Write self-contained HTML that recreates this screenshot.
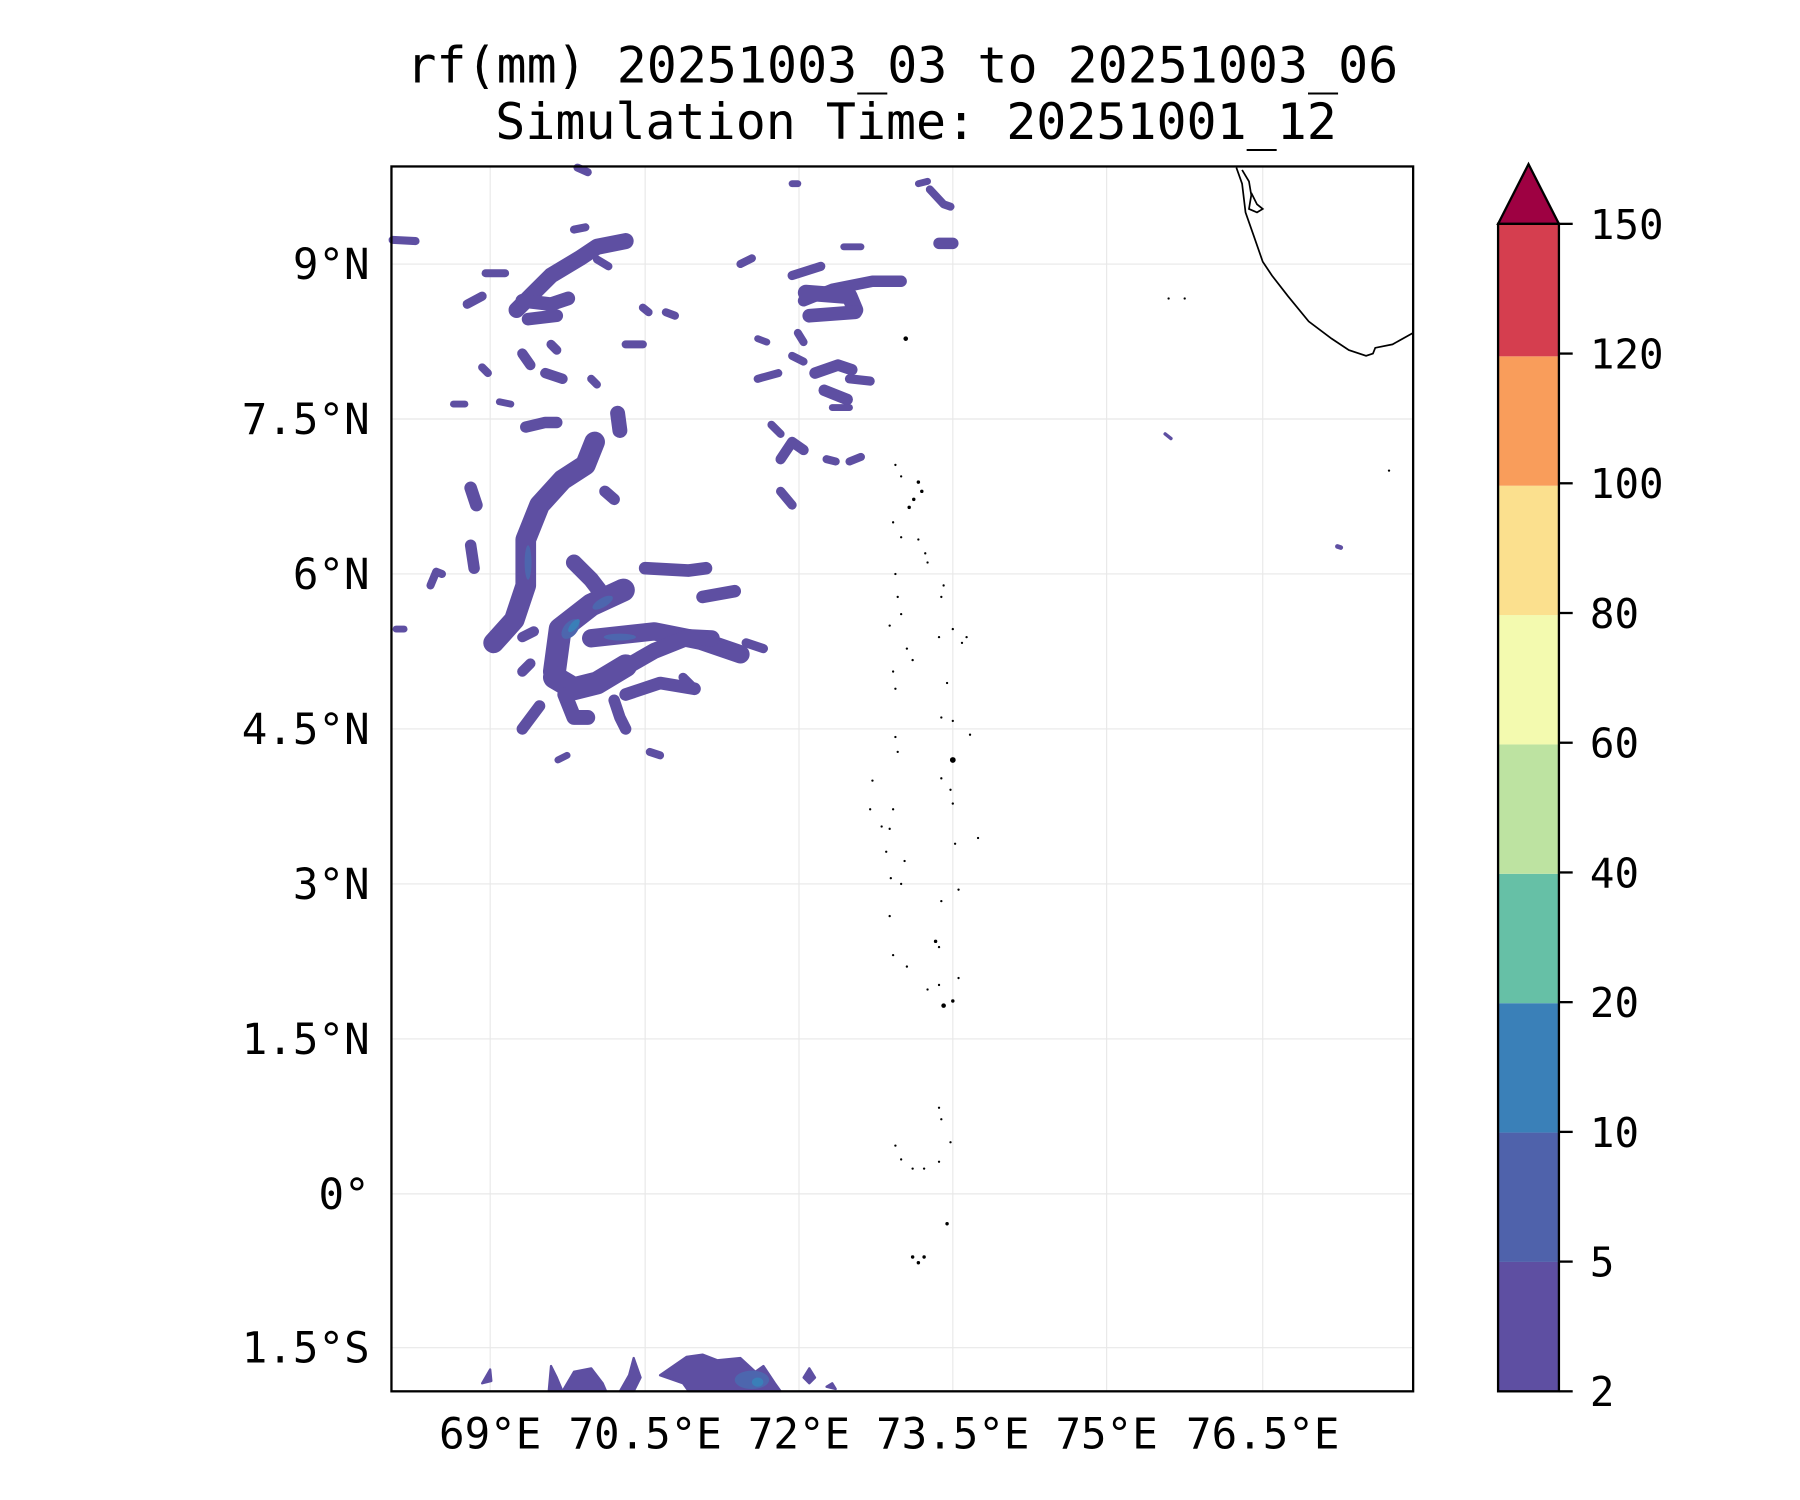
<!DOCTYPE html>
<html><head><meta charset="utf-8"><style>
html,body{margin:0;padding:0;background:#fff;}
svg{display:block;}
text{font-family:"DejaVu Sans Mono","Liberation Mono",monospace;fill:#000;}
</style></head><body>
<svg width="1800" height="1500" viewBox="0 0 1568 1306.67" xmlns="http://www.w3.org/2000/svg">
<rect width="1568" height="1306.67" fill="#fff"/>
<text x="786" y="72" font-size="43.5" text-anchor="middle">rf(mm) 20251003_03 to 20251003_06</text>
<text x="798" y="121" font-size="43.5" text-anchor="middle">Simulation Time: 20251001_12</text>
<g stroke="#e8e8e8" stroke-width="1">
<line x1="427" y1="145" x2="427" y2="1212"/><line x1="562" y1="145" x2="562" y2="1212"/><line x1="696" y1="145" x2="696" y2="1212"/><line x1="830" y1="145" x2="830" y2="1212"/><line x1="964" y1="145" x2="964" y2="1212"/><line x1="1100" y1="145" x2="1100" y2="1212"/>
<line x1="341" y1="230" x2="1231" y2="230"/><line x1="341" y1="365" x2="1231" y2="365"/><line x1="341" y1="500" x2="1231" y2="500"/><line x1="341" y1="635" x2="1231" y2="635"/><line x1="341" y1="770" x2="1231" y2="770"/><line x1="341" y1="905" x2="1231" y2="905"/><line x1="341" y1="1040" x2="1231" y2="1040"/><line x1="341" y1="1174" x2="1231" y2="1174"/>
</g>
<g fill="#5e4fa2" stroke="#5e4fa2" stroke-linejoin="round" stroke-linecap="round">
<polyline fill="none" stroke-width="18" points="430,560 448,540 458,510 458,470 470,440 490,418 510,405 518,385"/>
<polyline fill="none" stroke-width="13" points="538,360 540,375"/>
<polyline fill="none" stroke-width="20" points="483,585 488,548 515,527 543,514"/>
<polyline fill="none" stroke-width="14" points="500,490 515,505 525,518"/>
<polyline fill="none" stroke-width="16" points="515,556 570,550 610,558 645,570"/>
<polyline fill="none" stroke-width="14" points="535,587 570,567 600,555 620,556"/>
<polyline fill="none" stroke-width="20" points="483,590 500,600 520,595 545,580"/>
<polyline fill="none" stroke-width="11" points="562,495 600,497 615,495"/>
<polyline fill="none" stroke-width="11" points="612,520 640,515"/>
<polyline fill="none" stroke-width="11" points="545,605 575,595 605,600"/>
<polyline fill="none" stroke-width="13" points="492,605 500,625 512,625"/>
<polyline fill="none" stroke-width="10" points="455,635 470,615"/>
<polyline fill="none" stroke-width="10" points="535,610 540,625 545,635"/>
<polyline fill="none" stroke-width="10" points="410,475 413,495"/>
<polyline fill="none" stroke-width="11" points="410,425 415,440"/>
<polyline fill="none" stroke-width="10" points="458,372 475,368 485,368"/>
<polyline fill="none" stroke-width="10" points="527,428 535,435"/>
<polyline fill="none" stroke-width="9" points="455,555 465,550"/>
<polyline fill="none" stroke-width="9" points="455,585 462,578"/>
<polyline fill="none" stroke-width="6" points="345,548 352,548"/>
<polyline fill="none" stroke-width="7" points="566,655 575,658"/>
<polyline fill="none" stroke-width="6" points="486,662 494,658"/>
<polyline fill="none" stroke-width="7" points="375,510 380,498 385,500"/>
<polyline fill="none" stroke-width="8" points="650,560 665,565"/>
<polyline fill="none" stroke-width="8" points="595,590 605,600"/>
<!-- upper region -->
<polyline fill="none" stroke-width="14" points="450,270 465,255 480,240 505,225 520,215 545,210"/>
<polyline fill="none" stroke-width="12" points="455,262 480,265 495,260"/>
<polyline fill="none" stroke-width="11" points="460,278 485,275"/>
<polyline fill="none" stroke-width="7" points="342,209 362,210"/>
<polyline fill="none" stroke-width="7" points="423,238 440,238"/>
<polyline fill="none" stroke-width="8" points="407,265 420,258"/>
<polyline fill="none" stroke-width="9" points="475,325 490,330"/>
<polyline fill="none" stroke-width="9" points="455,308 462,318"/>
<polyline fill="none" stroke-width="8" points="480,300 485,305"/>
<polyline fill="none" stroke-width="7" points="520,226 530,232"/>
<polyline fill="none" stroke-width="7" points="420,320 425,325"/>
<polyline fill="none" stroke-width="6" points="395,352 405,352"/>
<polyline fill="none" stroke-width="6" points="435,350 445,352"/>
<polyline fill="none" stroke-width="7" points="545,300 560,300"/>
<polyline fill="none" stroke-width="7" points="515,330 520,335"/>
<polyline fill="none" stroke-width="7" points="580,272 588,275"/>
<polyline fill="none" stroke-width="7" points="500,200 510,198"/>
<polyline fill="none" stroke-width="7" points="503,146 512,150"/>
<polyline fill="none" stroke-width="7" points="645,230 655,225"/>
<polyline fill="none" stroke-width="7" points="560,268 565,272"/>
<polyline fill="none" stroke-width="10" points="700,262 725,252 760,245 785,245"/>
<polyline fill="none" stroke-width="14" points="702,255 740,258 745,270"/>
<polyline fill="none" stroke-width="12" points="705,275 745,272"/>
<polyline fill="none" stroke-width="8" points="690,240 715,232"/>
<polyline fill="none" stroke-width="10" points="710,325 730,318 742,322"/>
<polyline fill="none" stroke-width="10" points="718,340 738,348"/>
<polyline fill="none" stroke-width="8" points="740,330 758,332"/>
<polyline fill="none" stroke-width="7" points="660,330 678,325"/>
<polyline fill="none" stroke-width="7" points="690,310 700,315"/>
<polyline fill="none" stroke-width="7" points="695,290 700,298"/>
<polyline fill="none" stroke-width="10" points="818,212 830,212"/>
<polyline fill="none" stroke-width="7" points="810,165 822,178 828,180"/>
<polyline fill="none" stroke-width="6" points="800,160 808,158"/>
<polyline fill="none" stroke-width="9" points="680,400 690,385 700,392"/>
<polyline fill="none" stroke-width="8" points="680,428 690,440"/>
<polyline fill="none" stroke-width="7" points="720,400 728,402"/>
<polyline fill="none" stroke-width="7" points="740,402 750,398"/>
<polyline fill="none" stroke-width="7" points="672,370 680,378"/>
<polyline fill="none" stroke-width="6" points="660,295 668,298"/>
<polyline fill="none" stroke-width="6" points="735,215 750,215"/>
<polyline fill="none" stroke-width="6" points="690,160 695,160"/>
<polyline fill="none" stroke-width="6" points="725,355 740,355"/>
<polyline fill="none" stroke-width="4" points="1165,476 1168,477"/>
<polyline fill="none" stroke-width="3" points="1015,378 1020,382"/>
<!-- bottom strip -->
<polygon stroke-width="2" points="478,1212 480,1190 485,1200 490,1212"/>
<polygon stroke-width="2" points="490,1212 500,1195 515,1192 525,1205 528,1212"/>
<polygon stroke-width="2" points="540,1212 548,1198 552,1183 558,1200 552,1212"/>
<polygon stroke-width="2" points="575,1198 598,1182 612,1180 625,1185 645,1183 658,1195 665,1190 675,1205 680,1212 600,1212 595,1205"/>
<polygon stroke-width="2" points="420,1205 427,1193 428,1203"/>
<polygon stroke-width="2" points="700,1200 705,1192 710,1200 705,1205"/>
<polygon stroke-width="2" points="720,1208 725,1205 728,1210"/>
</g>
<g fill="#4d66ae">
<ellipse cx="497" cy="548" rx="6" ry="10" transform="rotate(40 497 548)"/>
<ellipse cx="525" cy="525" rx="10" ry="4" transform="rotate(-30 525 525)"/>
<ellipse cx="540" cy="555" rx="14" ry="3"/>
<ellipse cx="655" cy="1202" rx="15" ry="8"/>
<ellipse cx="460" cy="490" rx="3" ry="15"/>
</g>
<g fill="#3a7fb8"><ellipse cx="500" cy="545" rx="3" ry="7" transform="rotate(40 500 545)"/><ellipse cx="660" cy="1204" rx="5" ry="4"/></g>
<!-- coastline -->
<polyline fill="none" stroke="#000" stroke-width="1.5" points="1077,146 1082,160 1085,185 1092,205 1100,228 1108,240 1122,258 1140,280 1160,295 1175,305 1190,310 1196,308 1198,303 1213,300 1231,290"/>
<polyline fill="none" stroke="#000" stroke-width="1.5" points="1082,148 1088,158 1090,170 1088,182 1095,185 1100,182 1095,178 1090,168"/>
<!-- Maldives dots -->
<g fill="#000">
<circle cx="789" cy="295" r="2"/><circle cx="800" cy="420" r="1.5"/><circle cx="803" cy="428" r="1.5"/><circle cx="796" cy="435" r="1.5"/><circle cx="792" cy="442" r="1.5"/><circle cx="780" cy="405" r="1"/><circle cx="785" cy="415" r="1"/><circle cx="778" cy="455" r="1"/><circle cx="785" cy="468" r="1"/><circle cx="800" cy="470" r="1"/><circle cx="806" cy="482" r="1"/><circle cx="808" cy="490" r="1"/><circle cx="780" cy="500" r="1"/><circle cx="782" cy="520" r="1"/><circle cx="785" cy="535" r="1"/><circle cx="775" cy="545" r="1"/><circle cx="822" cy="510" r="1"/><circle cx="820" cy="520" r="1"/><circle cx="818" cy="555" r="1"/><circle cx="830" cy="548" r="1"/><circle cx="842" cy="555" r="1"/><circle cx="838" cy="560" r="1"/><circle cx="790" cy="565" r="1"/><circle cx="795" cy="575" r="1"/><circle cx="778" cy="585" r="1"/><circle cx="780" cy="600" r="1"/><circle cx="825" cy="595" r="1"/><circle cx="820" cy="625" r="1"/><circle cx="830" cy="628" r="1"/><circle cx="845" cy="640" r="1"/><circle cx="780" cy="642" r="1"/><circle cx="782" cy="655" r="1"/><circle cx="830" cy="662" r="2.5"/><circle cx="820" cy="678" r="1"/><circle cx="828" cy="688" r="1"/><circle cx="760" cy="680" r="1"/><circle cx="758" cy="705" r="1"/><circle cx="768" cy="720" r="1"/><circle cx="775" cy="722" r="1"/><circle cx="778" cy="705" r="1"/><circle cx="830" cy="700" r="1"/><circle cx="832" cy="735" r="1"/><circle cx="852" cy="730" r="1"/><circle cx="772" cy="742" r="1"/><circle cx="788" cy="750" r="1"/><circle cx="776" cy="765" r="1"/><circle cx="785" cy="770" r="1"/><circle cx="820" cy="785" r="1"/><circle cx="835" cy="775" r="1"/><circle cx="775" cy="798" r="1"/><circle cx="815" cy="820" r="1.5"/><circle cx="818" cy="825" r="1"/><circle cx="778" cy="832" r="1"/><circle cx="790" cy="842" r="1"/><circle cx="808" cy="862" r="1"/><circle cx="818" cy="858" r="1"/><circle cx="822" cy="876" r="2"/><circle cx="830" cy="872" r="1.5"/><circle cx="835" cy="852" r="1"/><circle cx="818" cy="965" r="1"/><circle cx="820" cy="975" r="1"/><circle cx="780" cy="998" r="1"/><circle cx="785" cy="1010" r="1"/><circle cx="795" cy="1018" r="1"/><circle cx="805" cy="1018" r="1"/><circle cx="818" cy="1012" r="1"/><circle cx="828" cy="995" r="1"/><circle cx="825" cy="1066" r="1.5"/><circle cx="795" cy="1095" r="1.5"/><circle cx="800" cy="1100" r="1.5"/><circle cx="805" cy="1095" r="1.5"/><circle cx="1018" cy="260" r="1"/><circle cx="1032" cy="260" r="1"/><circle cx="1210" cy="410" r="1"/>
</g>
<rect x="341" y="145" width="890" height="1067" fill="none" stroke="#000" stroke-width="2"/>
<g font-size="37" text-anchor="end">
<text x="322" y="243">9°N</text><text x="322" y="378">7.5°N</text><text x="322" y="513">6°N</text><text x="322" y="648">4.5°N</text><text x="322" y="783">3°N</text><text x="322" y="918">1.5°N</text><text x="322" y="1053">0°</text><text x="322" y="1187">1.5°S</text>
</g>
<g font-size="37" text-anchor="middle">
<text x="427" y="1262">69°E</text><text x="562" y="1262">70.5°E</text><text x="696" y="1262">72°E</text><text x="830" y="1262">73.5°E</text><text x="964" y="1262">75°E</text><text x="1100" y="1262">76.5°E</text>
</g>
<!-- colorbar -->
<g>
<rect x="1305" y="1099.3" width="53" height="112.7" fill="#5e4fa2"/>
<rect x="1305" y="986.6" width="53" height="112.7" fill="#4f62ab"/>
<rect x="1305" y="873.9" width="53" height="112.7" fill="#3a80b8"/>
<rect x="1305" y="761.2" width="53" height="112.7" fill="#66c0a6"/>
<rect x="1305" y="648.5" width="53" height="112.7" fill="#bde3a1"/>
<rect x="1305" y="535.8" width="53" height="112.7" fill="#f3faaf"/>
<rect x="1305" y="423.1" width="53" height="112.7" fill="#fbe08e"/>
<rect x="1305" y="310.4" width="53" height="112.7" fill="#f99d5b"/>
<rect x="1305" y="195" width="53" height="115.4" fill="#d53e4f"/>
<polygon points="1305,195 1331.5,143 1358,195" fill="#9e0142" stroke="#000" stroke-width="2"/>
<rect x="1305" y="195" width="53" height="1017" fill="none" stroke="#000" stroke-width="2"/>
<g stroke="#000" stroke-width="2">
<line x1="1358" y1="195" x2="1370" y2="195"/><line x1="1358" y1="308" x2="1370" y2="308"/><line x1="1358" y1="421" x2="1370" y2="421"/><line x1="1358" y1="534" x2="1370" y2="534"/><line x1="1358" y1="647" x2="1370" y2="647"/><line x1="1358" y1="760" x2="1370" y2="760"/><line x1="1358" y1="873" x2="1370" y2="873"/><line x1="1358" y1="986" x2="1370" y2="986"/><line x1="1358" y1="1099" x2="1370" y2="1099"/><line x1="1358" y1="1212" x2="1370" y2="1212"/>
</g>
<g font-size="35.5">
<text x="1385" y="208">150</text><text x="1385" y="321">120</text><text x="1385" y="434">100</text><text x="1385" y="547">80</text><text x="1385" y="660">60</text><text x="1385" y="773">40</text><text x="1385" y="886">20</text><text x="1385" y="999">10</text><text x="1385" y="1112">5</text><text x="1385" y="1225">2</text>
</g>
</g>
</svg>
</body></html>
